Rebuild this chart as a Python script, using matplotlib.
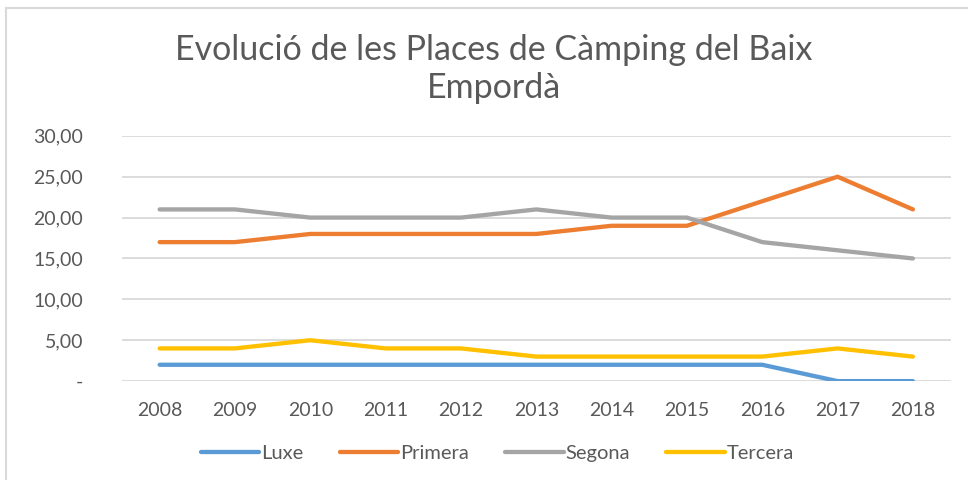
import matplotlib
matplotlib.use("Agg")
import matplotlib.pyplot as plt
from matplotlib.lines import Line2D

years = ["2008", "2009", "2010", "2011", "2012", "2013", "2014", "2015", "2016", "2017", "2018"]
luxe = [2, 2, 2, 2, 2, 2, 2, 2, 2, 0, 0]
primera = [17, 17, 18, 18, 18, 18, 19, 19, 22, 25, 21]
segona = [21, 21, 20, 20, 20, 21, 20, 20, 17, 16, 15]
tercera = [4, 4, 5, 4, 4, 3, 3, 3, 3, 4, 3]
yticks = [0, 5, 10, 15, 20, 25, 30]
ytick_labels = ["-", "5,00", "10,00", "15,00", "20,00", "25,00", "30,00"]

plt.rcParams["font.family"] = ["Lato", "DejaVu Sans"]
TXT = "#595959"

fig = plt.figure(figsize=(9.68, 4.8), dpi=100)
ax = fig.add_axes([0.126, 0.206, 0.856, 0.511])

series = [("Luxe", luxe, "#5B9BD5"), ("Primera", primera, "#ED7D31"),
          ("Segona", segona, "#A5A5A5"), ("Tercera", tercera, "#FFC000")]
x = list(range(len(years)))
for name, vals, c in series:
    ax.plot(x, vals, color=c, lw=3.1, solid_capstyle="round",
            solid_joinstyle="round", label=name, zorder=3)

ax.set_xlim(-0.5, len(years) - 0.5)
ax.set_ylim(0, 30)
ax.set_yticks(yticks, ytick_labels)
ax.set_xticks(x, years)
ax.grid(axis="y", color="#D9D9D9", lw=1.3)
ax.set_axisbelow(True)
for s in ax.spines.values():
    s.set_visible(False)
ax.tick_params(axis="both", length=0, colors=TXT, labelsize=14)
ax.tick_params(axis="y", pad=28)
ax.tick_params(axis="x", pad=15)

fig.text(0.51, 0.895, "Evolució de les Places de Càmping del Baix", ha="center",
         va="center", fontsize=24.5, color=TXT)
fig.text(0.51, 0.816, "Empordà", ha="center", va="center", fontsize=24.5, color=TXT)

handles = [Line2D([], [], color=c, lw=3.1, solid_capstyle="round") for _, _, c in series]
fig.legend(handles, [s[0] for s in series], loc="center", bbox_to_anchor=(0.514, 0.056),
           ncol=4, frameon=False, fontsize=14.5, handlelength=2.9, handletextpad=0.1,
           columnspacing=1.8, labelcolor=TXT)

# outer chart frame (left + top edges visible in the screenshot)
fig.add_artist(Line2D([0.0062, 0.0062], [0, 0.983], color="#D9D9D9", lw=1.5))
fig.add_artist(Line2D([0.0062, 1], [0.983, 0.983], color="#D9D9D9", lw=1.5))

fig.savefig("out.png", dpi=100)
